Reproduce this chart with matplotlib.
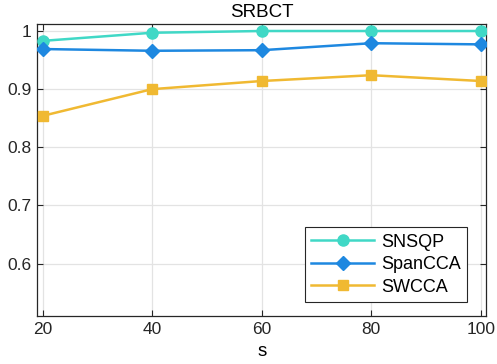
import matplotlib
matplotlib.use("Agg")
import matplotlib.pyplot as plt

s_vals = [20, 40, 60, 80, 100]
snsqp = [0.983, 0.997, 1.0, 1.0, 1.0]
spancca = [0.969, 0.966, 0.967, 0.979, 0.977]
swcca = [0.854, 0.900, 0.914, 0.924, 0.914]

plt.rcParams.update({"font.family": ["Liberation Sans", "DejaVu Sans"], "font.size": 12})

fig = plt.figure(figsize=(4.97, 3.64), dpi=100)
ax = fig.add_axes([0.0745, 0.132, 0.904, 0.802])

ax.plot(s_vals, snsqp, "-o", color="#40D8C6", lw=1.8, ms=8, label="SNSQP", zorder=3)
ax.plot(s_vals, spancca, "-D", color="#1E88E0", lw=1.8, ms=7, label="SpanCCA", zorder=3)
ax.plot(s_vals, swcca, "-s", color="#F0B932", lw=1.8, ms=7, label="SWCCA", zorder=3)

ax.set_xlim(19, 101)
ax.set_ylim(0.51, 1.012)
ax.set_xticks(s_vals)
ax.set_yticks([0.6, 0.7, 0.8, 0.9, 1.0])
ax.set_yticklabels(["0.6", "0.7", "0.8", "0.9", "1"])
ax.grid(color="#E3E3E3", lw=0.9)
ax.set_axisbelow(True)
ax.tick_params(direction="in", length=4, width=0.8, top=True, right=True, colors="#262626",
               labelsize=12.5, pad=4)
for sp in ax.spines.values():
    sp.set_color("#262626")
    sp.set_linewidth(0.9)
ax.set_title("SRBCT", fontsize=13.5, pad=5)
ax.set_xlabel("s", fontsize=13.5, labelpad=5)

leg = ax.legend(loc="lower right", fontsize=13, fancybox=False, framealpha=1,
                edgecolor="#262626", handlelength=3.5, borderpad=0.35, labelspacing=0.3,
                handletextpad=0.4, borderaxespad=0, bbox_to_anchor=(0.958, 0.048))
leg.get_frame().set_linewidth(0.8)

fig.savefig("out.png", dpi=100, facecolor="white")
